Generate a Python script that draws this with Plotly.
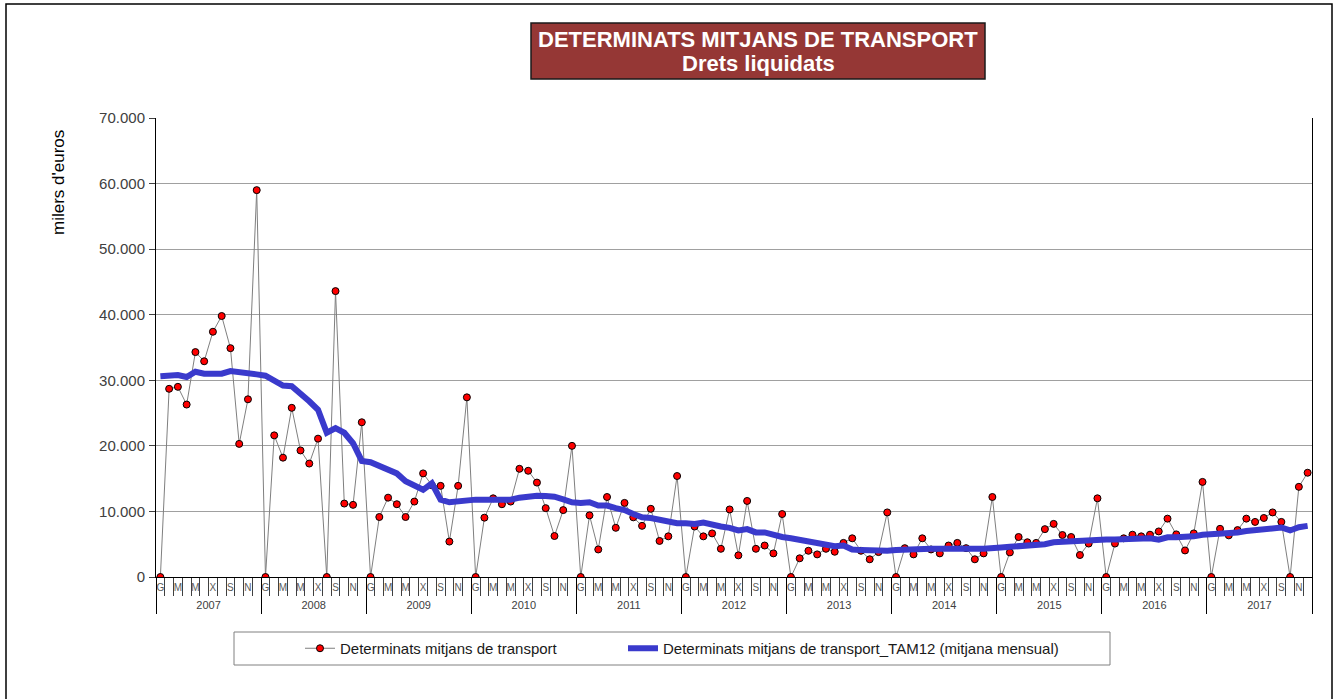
import plotly.graph_objects as go

# ---------------- data (milers d'euros) ----------------
years = [2007, 2008, 2009, 2010, 2011, 2012, 2013, 2014, 2015, 2016, 2017]
month_letters = ["G", "F", "M", "A", "M", "J", "X", "A", "S", "O", "N", "D"]

dm2007 = [0, 28700, 29000, 26300, 34300, 32900, 37400, 39800, 34900, 20300, 27100, 59000]
dm2008 = [0, 21600, 18200, 25800, 19300, 17300, 21100, 0, 43600, 11200, 11000, 23600]
dm2009 = [0, 9150, 12100, 11100, 9150, 11500, 15800, 14000, 13900, 5400, 13900, 27400]
dm2010 = [0, 9050, 12000, 11100, 11500, 16500, 16200, 14400, 10500, 6250, 10200, 20000]
dm2011 = [0, 9400, 4200, 12200, 7500, 11300, 9100, 7800, 10400, 5500, 6200, 15400]
dm2012 = [0, 7700, 6200, 6650, 4300, 10300, 3300, 11600, 4300, 4800, 3600, 9600]
dm2013 = [0, 2850, 4000, 3450, 4300, 3850, 5200, 5900, 4000, 2700, 3800, 9850]
dm2014 = [0, 4400, 3450, 5900, 4200, 3600, 4800, 5200, 4400, 2700, 3600, 12200]
dm2015 = [0, 3750, 6100, 5300, 5200, 7300, 8100, 6400, 6100, 3350, 5100, 12000]
dm2016 = [0, 5100, 5900, 6450, 6200, 6450, 6950, 8900, 6500, 4050, 6650, 14500]
dm2017 = [0, 7350, 6350, 7150, 8900, 8400, 9000, 9850, 8400, 0, 13750, 15900]

tam2007 = [30600, 30650, 30800, 30500, 31300, 31000, 31000, 31000, 31400, 31300, 31000, 30900]
tam2008 = [30700, 29900, 29200, 29100, 28000, 26800, 25500, 22000, 22700, 22000, 20400, 17700]
tam2009 = [17500, 17000, 16300, 15800, 14600, 13900, 13300, 14300, 11800, 11400, 11600, 11700]
tam2010 = [11800, 11800, 11800, 11800, 11800, 12100, 12350, 12400, 12350, 12250, 11850, 11400]
tam2011 = [11300, 11400, 10900, 10900, 10500, 10200, 9600, 9100, 9000, 8700, 8400, 8200]
tam2012 = [8200, 8100, 8300, 7900, 7700, 7500, 7100, 7300, 6800, 6800, 6400, 6100]
tam2013 = [5900, 5700, 5500, 5300, 5100, 4700, 4800, 4200, 4100, 4000, 3900, 4000]
tam2014 = [4100, 4200, 4200, 4250, 4300, 4300, 4350, 4350, 4300, 4300, 4300, 4500]
tam2015 = [4500, 4600, 4700, 4700, 4700, 5000, 5300, 5400, 5500, 5600, 5700, 5800]
tam2016 = [5700, 5700, 5800, 5900, 6000, 5900, 5700, 6050, 6050, 6050, 6200, 6450]
tam2017 = [6500, 6550, 6600, 6800, 7000, 7150, 7250, 7300, 7550, 7100, 7600, 7800]

ytick_vals = [0, 10000, 20000, 30000, 40000, 50000, 60000, 70000]

series_name = "Determinats mitjans de transport"
tam_name = "Determinats mitjans de transport_TAM12 (mitjana mensual)"
title_line1 = "DETERMINATS MITJANS DE TRANSPORT"
title_line2 = "Drets liquidats"
ytitle = "milers d'euros"

# ---------------- build ----------------
values = (dm2007 + dm2008 + dm2009 + dm2010 + dm2011 + dm2012 + dm2013 + dm2014
          + dm2015 + dm2016 + dm2017)
tam = (tam2007 + tam2008 + tam2009 + tam2010 + tam2011 + tam2012 + tam2013 + tam2014
       + tam2015 + tam2016 + tam2017)
n = len(values)
xi = list(range(n))

month_tickvals = [i for i in xi if i % 2 == 0]
month_ticktext = [month_letters[i % 12] for i in month_tickvals]
month_bounds = [i - 0.5 for i in range(n + 1)]
year_bounds = [12 * k - 0.5 for k in range(len(years) + 1)]
year_centres = [12 * k + 5.5 for k in range(len(years))]
year_text = [str(y) for y in years]

FONT = "Liberation Sans, Arial, sans-serif"
PL, PR, PT, PB = 156, 1312, 118, 577
W, H = 1338, 699


def px(xp):
    return (xp - PL) / (PR - PL)


def py(yp):
    return (PB - yp) / (PB - PT)


xr = [-0.5, n - 0.5]

fig = go.Figure()
fig.add_trace(go.Scatter(
    x=xi, y=values, name=series_name, mode="lines+markers",
    line=dict(color="#7F7F7F", width=1),
    marker=dict(color="#FF0000", size=7, line=dict(color="#000000", width=1)),
    legend="legend",
))
fig.add_trace(go.Scatter(
    x=xi, y=tam, name=tam_name, mode="lines",
    line=dict(color="#3A3ACC", width=6),
    legend="legend2",
))

axis_common = dict(range=xr, showgrid=False, zeroline=False, fixedrange=True)
legend_common = dict(orientation="h", xanchor="left", yanchor="top",
                     bgcolor="rgba(0,0,0,0)", borderwidth=0,
                     font=dict(family=FONT, size=15, color="#1a1a1a"))

fig.update_layout(
    width=W, height=H,
    margin=dict(l=PL, r=W - PR, t=PT, b=H - PB, pad=0),
    paper_bgcolor="white", plot_bgcolor="white",
    separators=",.",
    font=dict(family=FONT, color="#404040"),
    showlegend=True,
    legend=dict(**legend_common, x=px(300), y=py(632)),
    legend2=dict(**legend_common, x=px(623), y=py(632)),
    xaxis=dict(
        **axis_common,
        tickmode="array", tickvals=month_tickvals, ticktext=month_ticktext,
        ticks="", showline=True, linecolor="#000000", linewidth=1,
        tickfont=dict(family=FONT, size=10, color="#595959"),
        ticklabelstandoff=1,
    ),
    xaxis2=dict(
        **axis_common, overlaying="x", anchor="y", side="bottom",
        tickmode="array", tickvals=month_bounds, ticks="outside", ticklen=18,
        tickcolor="#404040", tickwidth=1, showticklabels=False, showline=False,
    ),
    xaxis3=dict(
        **axis_common, overlaying="x", anchor="y", side="bottom",
        tickmode="array", tickvals=year_bounds, ticks="outside", ticklen=36,
        tickcolor="#000000", tickwidth=1, showticklabels=False, showline=False,
    ),
    xaxis4=dict(
        **axis_common, overlaying="x", anchor="y", side="bottom",
        tickmode="array", tickvals=year_centres, ticktext=year_text,
        ticks="outside", ticklen=18, tickcolor="rgba(0,0,0,0)",
        tickfont=dict(family=FONT, size=11, color="#404040"), showline=False,
    ),
    yaxis=dict(
        range=[0, 70000], tickmode="array", tickvals=ytick_vals, tickformat=",d",
        showgrid=True, gridcolor="#A0A0A0", gridwidth=1, zeroline=False,
        showline=True, linecolor="#000000", linewidth=1, mirror=True,
        ticks="outside", ticklen=6, tickcolor="#404040",
        tickfont=dict(family=FONT, size=15, color="#404040"),
        ticklabelstandoff=1, fixedrange=True,
    ),
)

for ax in ["x2", "x3", "x4"]:
    fig.add_trace(go.Scatter(x=[], y=[], xaxis=ax, yaxis="y", showlegend=False,
                             hoverinfo="skip"))

shapes = [
    dict(type="rect", xref="paper", yref="paper",
         x0=px(6), x1=px(1332), y0=py(1000), y1=py(4),
         line=dict(color="#000000", width=1.5), fillcolor="rgba(0,0,0,0)", layer="below"),
    dict(type="rect", xref="paper", yref="paper",
         x0=px(531), x1=px(985), y0=py(79), y1=py(23),
         line=dict(color="#1a1a1a", width=1.5), fillcolor="#953735", layer="above"),
    dict(type="rect", xref="paper", yref="paper",
         x0=px(234), x1=px(1110), y0=py(665), y1=py(632),
         line=dict(color="#808080", width=1), fillcolor="rgba(0,0,0,0)", layer="above"),
]
fig.update_layout(shapes=shapes)

annotations = [
    dict(text="<b>" + title_line1 + "</b>", xref="paper", yref="paper",
         x=px(758), y=py(39), xanchor="center", yanchor="middle", showarrow=False,
         font=dict(family=FONT, size=22, color="#FFFFFF")),
    dict(text="<b>" + title_line2 + "</b>", xref="paper", yref="paper",
         x=px(758), y=py(64), xanchor="center", yanchor="middle", showarrow=False,
         font=dict(family=FONT, size=22, color="#FFFFFF")),
    dict(text=ytitle, xref="paper", yref="paper", x=px(58), y=py(183),
         xanchor="center", yanchor="middle", textangle=-90, showarrow=False,
         font=dict(family=FONT, size=17, color="#000000")),
]
fig.update_layout(annotations=annotations)

fig.write_html("out.html", config={"displayModeBar": False},
               post_script="document.body.style.margin='0';")
